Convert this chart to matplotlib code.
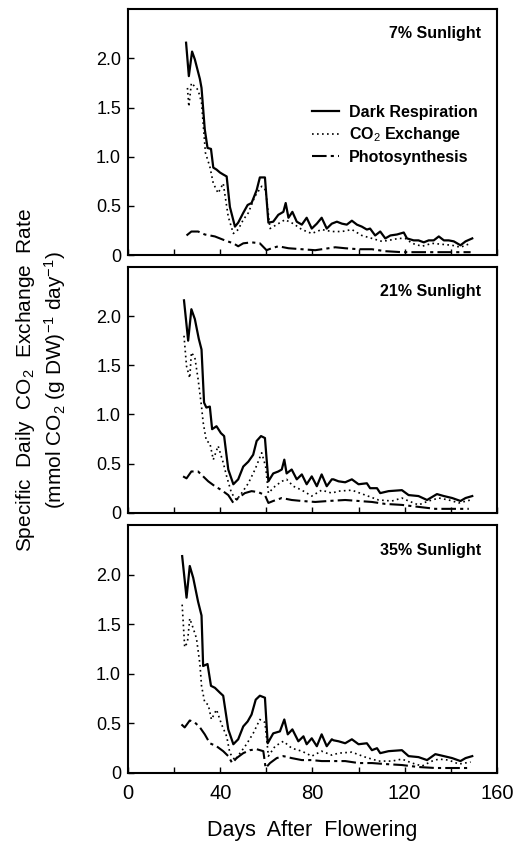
import matplotlib
matplotlib.use('Agg')
import matplotlib.pyplot as plt

plt.rcParams['font.family'] = 'Liberation Sans'
plt.rcParams['mathtext.fontset'] = 'custom'
plt.rcParams['mathtext.rm'] = 'Liberation Sans'
plt.rcParams['mathtext.it'] = 'Liberation Sans:italic'
plt.rcParams['mathtext.bf'] = 'Liberation Sans:bold'

# ---- 7% sunlight ----
d7_dark = [25.2, 26.4, 27.8, 29.0, 31.2, 31.9, 33.3, 34.5, 36.0, 37.0, 38.4, 39.9, 41.3, 42.8,
           44.2, 46.4, 47.8, 50.0, 51.9, 53.6, 55.8, 57.2, 59.4, 60.9, 63.0, 65.2, 67.4, 68.4,
           69.6, 71.3, 73.2, 75.4, 77.5, 79.7, 81.9, 84.0, 86.2, 88.4, 90.6, 92.8, 94.9, 97.1,
           99.3, 101.4, 103.6, 105.0, 107.2, 109.4, 111.6, 113.8, 116.7, 119.6, 121.0, 123.9,
           126.0, 128.3, 130.4, 132.6, 134.8, 137.0, 139.1, 141.3, 144.2, 146.4, 149.3]
r7_dark = [2.16, 1.82, 2.07, 1.99, 1.79, 1.70, 1.28, 1.09, 1.08, 0.89, 0.87, 0.84, 0.82, 0.80,
           0.49, 0.29, 0.33, 0.43, 0.51, 0.53, 0.66, 0.79, 0.79, 0.33, 0.34, 0.41, 0.44, 0.53,
           0.38, 0.44, 0.34, 0.31, 0.38, 0.27, 0.32, 0.38, 0.27, 0.32, 0.34, 0.32, 0.31, 0.35,
           0.31, 0.29, 0.26, 0.27, 0.20, 0.24, 0.17, 0.20, 0.21, 0.23, 0.17, 0.15,
           0.15, 0.13, 0.15, 0.15, 0.19, 0.15, 0.15, 0.14, 0.10, 0.14, 0.17]
d7_co2 = [25.8, 26.4, 27.5, 30.4, 31.9, 33.6, 35.5, 37.0, 39.1, 41.3, 43.5, 45.7, 47.8, 50.0,
          52.2, 55.1, 58.0, 59.7, 61.6, 65.2, 68.1, 71.7, 75.4, 79.7, 84.0, 88.4, 92.8, 97.1,
          101.4, 105.8, 110.1, 113.0, 117.4, 120.3, 123.2, 127.5, 131.9, 136.2, 140.6, 144.2, 148.6]
r7_co2 = [1.70, 1.51, 1.75, 1.68, 1.55, 1.04, 0.90, 0.73, 0.63, 0.73, 0.39, 0.22, 0.26, 0.36,
          0.43, 0.60, 0.70, 0.66, 0.27, 0.32, 0.36, 0.32, 0.26, 0.22, 0.26, 0.24, 0.24, 0.26,
          0.20, 0.17, 0.14, 0.15, 0.17, 0.17, 0.12, 0.09, 0.12, 0.11, 0.10, 0.08, 0.12]
d7_ps = [25.4, 27.5, 30.4, 33.3, 37.7, 42.0, 45.7, 47.8, 50.0, 53.6, 57.2, 60.1, 62.3, 65.2,
         69.6, 75.4, 81.2, 87.0, 89.9, 94.2, 100.0, 105.8, 111.6, 118.8, 126.0, 133.3, 140.6, 148.6]
r7_ps = [0.20, 0.24, 0.24, 0.21, 0.19, 0.15, 0.12, 0.09, 0.12, 0.13, 0.12, 0.05, 0.07, 0.09,
         0.07, 0.06, 0.05, 0.07, 0.08, 0.07, 0.06, 0.06, 0.04, 0.03, 0.03, 0.03, 0.03, 0.03]

# ---- 21% sunlight ----
d21_dark = [24.3, 26.1, 27.5, 29.0, 30.7, 31.9, 33.0, 34.0, 35.5, 36.5, 38.4, 40.3, 41.7, 43.5,
            45.7, 47.8, 50.0, 52.2, 54.3, 55.8, 57.7, 59.4, 60.9, 63.0, 65.2, 66.7, 67.8, 68.8,
            71.0, 73.2, 75.4, 77.5, 79.7, 81.9, 84.0, 86.2, 88.4, 89.1, 91.3, 94.2, 97.1, 100.0,
            103.6, 105.0, 108.0, 109.4, 113.0, 118.8, 121.7, 126.0, 129.7, 134.0, 137.0, 140.6,
            144.2, 146.4, 149.3]
r21_dark = [2.16, 1.75, 2.07, 1.97, 1.77, 1.66, 1.12, 1.07, 1.08, 0.85, 0.88, 0.81, 0.78, 0.44,
            0.29, 0.34, 0.47, 0.52, 0.59, 0.73, 0.78, 0.76, 0.32, 0.40, 0.42, 0.44, 0.54, 0.40,
            0.44, 0.34, 0.39, 0.29, 0.37, 0.27, 0.39, 0.27, 0.34, 0.34, 0.32, 0.31, 0.34, 0.29,
            0.30, 0.25, 0.25, 0.20, 0.22, 0.23, 0.18, 0.17, 0.13, 0.19, 0.17, 0.15,
            0.12, 0.15, 0.17]
d21_co2 = [24.3, 25.4, 26.8, 27.5, 29.0, 30.4, 31.9, 32.6, 34.0, 35.5, 37.0, 39.1, 41.3, 42.8,
           44.9, 47.1, 49.3, 52.2, 55.1, 58.0, 59.7, 60.9, 63.8, 66.7, 68.8, 71.7, 75.4, 79.7,
           84.0, 88.4, 91.3, 97.1, 102.9, 108.7, 114.5, 118.8, 121.7, 126.0, 130.4, 134.8, 139.1,
           143.5, 148.6]
r21_co2 = [1.80, 1.49, 1.37, 1.63, 1.58, 1.36, 1.08, 0.92, 0.73, 0.71, 0.54, 0.68, 0.51, 0.37,
           0.20, 0.13, 0.20, 0.30, 0.44, 0.61, 0.47, 0.20, 0.27, 0.32, 0.34, 0.27, 0.23, 0.17,
           0.23, 0.20, 0.22, 0.23, 0.18, 0.13, 0.12, 0.15, 0.12, 0.08, 0.12, 0.15, 0.13,
           0.10, 0.13]
d21_ps = [23.9, 25.4, 27.5, 30.4, 32.6, 34.8, 37.7, 40.6, 43.5, 45.7, 47.8, 50.7, 53.6, 56.5,
          59.4, 60.9, 63.0, 66.7, 71.0, 75.4, 81.2, 87.0, 94.2, 100.0, 105.8, 111.6, 118.8,
          126.0, 133.3, 140.6, 147.8]
r21_ps = [0.37, 0.35, 0.42, 0.42, 0.37, 0.32, 0.27, 0.23, 0.18, 0.10, 0.15, 0.20, 0.22, 0.21,
          0.18, 0.10, 0.12, 0.15, 0.13, 0.12, 0.11, 0.12, 0.13, 0.12, 0.11, 0.09, 0.08,
          0.06, 0.04, 0.04, 0.04]

# ---- 35% sunlight ----
d35_dark = [23.5, 25.4, 26.8, 28.3, 30.4, 31.9, 32.6, 34.5, 36.0, 37.7, 39.9, 41.3, 43.5, 45.7,
            47.8, 50.0, 51.9, 53.6, 55.4, 57.2, 59.4, 60.6, 63.0, 65.9, 67.8, 69.3, 71.3, 73.9,
            76.1, 77.5, 79.7, 81.9, 84.0, 86.2, 88.4, 89.1, 91.3, 94.2, 97.1, 100.0, 103.6,
            105.8, 108.0, 109.4, 113.0, 118.8, 121.7, 126.0, 129.7, 133.3, 137.0, 140.6, 144.2,
            146.4, 149.3]
r35_dark = [2.19, 1.77, 2.09, 1.97, 1.73, 1.59, 1.08, 1.10, 0.88, 0.86, 0.81, 0.78, 0.44, 0.29,
            0.34, 0.47, 0.52, 0.59, 0.74, 0.78, 0.76, 0.30, 0.40, 0.42, 0.54, 0.39, 0.44, 0.32,
            0.37, 0.29, 0.35, 0.27, 0.39, 0.27, 0.34, 0.33, 0.32, 0.30, 0.34, 0.29, 0.30,
            0.23, 0.25, 0.20, 0.22, 0.23, 0.17, 0.16, 0.13, 0.19, 0.17, 0.15, 0.12,
            0.15, 0.17]
d35_co2 = [23.5, 24.6, 25.8, 26.8, 28.3, 29.7, 31.2, 31.9, 33.3, 34.8, 36.2, 38.4, 40.6, 42.8,
           44.2, 46.4, 48.6, 51.4, 54.3, 57.2, 59.4, 60.9, 63.8, 67.4, 71.0, 75.4, 79.7, 84.0,
           88.4, 91.3, 97.1, 102.9, 108.7, 114.5, 118.8, 123.2, 127.5, 131.9, 134.8, 139.1,
           143.5, 148.6]
r35_co2 = [1.70, 1.27, 1.32, 1.56, 1.46, 1.36, 1.10, 0.88, 0.71, 0.69, 0.54, 0.64, 0.49, 0.37,
           0.20, 0.13, 0.20, 0.29, 0.40, 0.54, 0.51, 0.17, 0.27, 0.32, 0.25, 0.22, 0.17, 0.22,
           0.18, 0.20, 0.21, 0.16, 0.12, 0.12, 0.14, 0.10, 0.07, 0.12, 0.14, 0.13,
           0.09, 0.11]
d35_ps = [23.2, 24.6, 26.8, 29.0, 31.2, 33.3, 35.5, 38.4, 41.3, 43.5, 45.2, 47.1, 50.0, 52.9,
          55.8, 58.7, 59.7, 61.6, 64.5, 67.4, 71.0, 75.4, 79.7, 84.0, 88.4, 94.2, 100.0, 105.8,
          111.6, 118.8, 126.0, 133.3, 140.6, 148.6]
r35_ps = [0.49, 0.46, 0.53, 0.51, 0.46, 0.39, 0.30, 0.27, 0.22, 0.17, 0.10, 0.15, 0.20, 0.23,
          0.24, 0.22, 0.05, 0.10, 0.15, 0.17, 0.15, 0.13, 0.13, 0.12, 0.12, 0.12, 0.10, 0.10,
          0.09, 0.08, 0.06, 0.05, 0.05, 0.05]

panel_titles = ['7% Sunlight', '21% Sunlight', '35% Sunlight']
panels = [
    (d7_dark, r7_dark, d7_co2, r7_co2, d7_ps, r7_ps),
    (d21_dark, r21_dark, d21_co2, r21_co2, d21_ps, r21_ps),
    (d35_dark, r35_dark, d35_co2, r35_co2, d35_ps, r35_ps),
]

fig = plt.figure(figsize=(5.16, 8.42), dpi=100)

# panel boxes in figure coords (left, bottom, width, height)
boxes = [(0.248, 0.697, 0.715, 0.292),
         (0.248, 0.391, 0.715, 0.292),
         (0.248, 0.082, 0.715, 0.294)]

axes = []
for i, (box, data, title) in enumerate(zip(boxes, panels, panel_titles)):
    ax = fig.add_axes(box)
    dd, rd, dc, rc, dp, rp = data
    ax.plot(dd, rd, color='black', lw=1.6, ls='-', label='Dark Respiration')
    ax.plot(dc, rc, color='black', lw=1.2, ls=(0, (1, 2)), label='CO$_2$ Exchange')
    ax.plot(dp, rp, color='black', lw=1.5, ls=(0, (7, 2, 1.5, 2)), label='Photosynthesis')

    ax.set_xlim(0, 160)
    ax.set_ylim(0, 2.5)
    ax.set_xticks(range(0, 161, 20))
    ax.set_yticks([0, 0.5, 1.0, 1.5, 2.0])
    ax.set_yticklabels(['0', '0.5', '1.0', '1.5', '2.0'])
    ax.tick_params(direction='in', length=4, width=1, labelsize=13, pad=5)
    for s in ax.spines.values():
        s.set_linewidth(1.5)

    if i < 2:
        ax.set_xticklabels([])
    else:
        ax.set_xticklabels(['0', '', '40', '', '80', '', '120', '', '160'])
        ax.tick_params(axis='x', labelsize=14.5, pad=8)
        ax.set_xlabel('Days  After  Flowering', fontsize=15.5, labelpad=12)

    ax.text(0.958, 0.90, title, transform=ax.transAxes, ha='right', va='center',
            fontsize=11.5, fontweight='bold')

    if i == 0:
        ax.legend(loc='upper left', bbox_to_anchor=(0.46, 0.67), frameon=False,
                  handlelength=1.7, handletextpad=0.6, labelspacing=0.35,
                  prop={'weight': 'bold', 'size': 11.5})
    axes.append(ax)

fig.text(0.05, 0.549, 'Specific  Daily  CO$_2$  Exchange  Rate', rotation=90,
         ha='center', va='center', fontsize=15)
fig.text(0.107, 0.549, '(mmol CO$_2$ (g DW)$^{-1}$ day$^{-1}$)', rotation=90,
         ha='center', va='center', fontsize=15)

plt.savefig('out.png', dpi=100)
